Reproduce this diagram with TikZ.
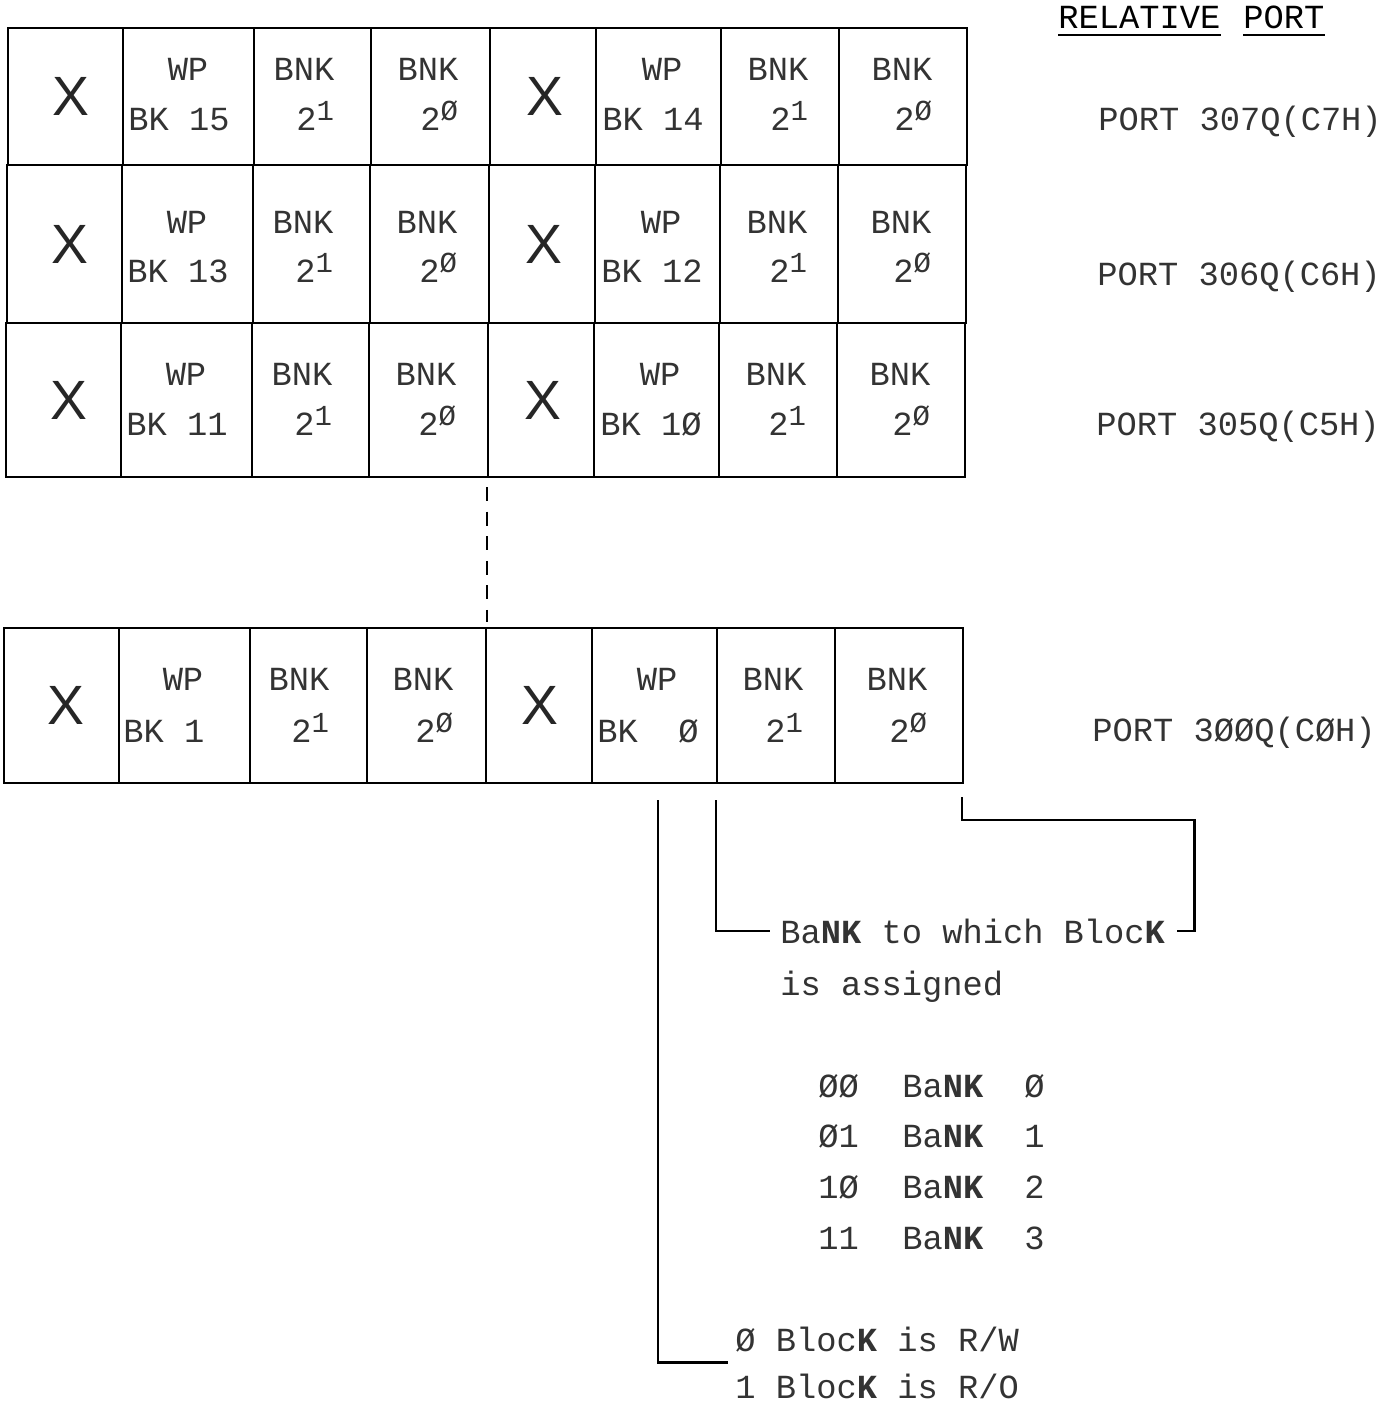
\documentclass[tikz,border=0pt]{standalone}
\usepackage{fontspec}
\setmonofont{Liberation Mono}
\newfontfamily\xfont{Liberation Sans}
\usetikzlibrary{calc}

\tikzset{
  mono/.style={inner sep=0pt, text=black!80, font=\ttfamily\fontsize{19.2}{23}\selectfont},
  lbl/.style={mono, anchor=base west},
  mid/.style={mono, anchor=base},
  bigx/.style={inner sep=0pt, text=black!85, font=\xfont\fontsize{31.5}{34}\selectfont},
  cellline/.style={line width=1.6pt},
  bracket/.style={line width=1.5pt}
}

\newcommand{\bnk}{Ba\textbf{NK}}
\newcommand{\blk}{Bloc\textbf{K}}
\newcommand{\pwr}[1]{2\raisebox{5.5pt}{\fontsize{16.5}{18}\selectfont #1}}

\begin{document}
\begin{tikzpicture}[x=0.02cm, y=-0.02cm]
    \useasboundingbox (0,0) rectangle (1395,1403);

    % register cells
    \foreach \yt/\yb/\dx in {28/165/0, 165/323/-1, 323/477/-2, 628/783/-4}
        \foreach \xl/\xr in {8/123, 123/254, 254/371, 371/490, 490/596, 596/721, 721/839, 839/967}
            \draw[cellline] (\xl+\dx,\yt) rectangle (\xr+\dx,\yb);

    % cell texts
    \foreach \yt/\yb/\yw/\yk/\dx/\bl/\br [count=\r] in
        {28/165/80/130/0/15/14, 165/323/233/282/-1/13/12,
         323/477/385/435/-2/11/1Ø, 628/783/690/742/-5/1/{~Ø}}
        \foreach \h/\bk [count=\s] in {0/\bl, 474/\br} {
            \node[bigx] (x-\r-\s) at (71+\h+\dx, {(\yt+\yb)/2}) {X};
            \node[mid] (wp-\r-\s) at (188+\h+\dx, \yw) {WP};
            \node[lbl] (bk-\r-\s) at (128+\h+\dx, \yk) {BK \bk};
            \node[mid] (hi-\r-\s) at (304+\h+\dx, \yw) {BNK};
            \node[lbl] (hp-\r-\s) at (296+\h+\dx, \yk) {\pwr{1}};
            \node[mid] (lo-\r-\s) at (428+\h+\dx, \yw) {BNK};
            \node[lbl] (lp-\r-\s) at (420+\h+\dx, \yk) {\pwr{Ø}};
        }

    \draw[line width=1.5pt, dash pattern=on 8pt off 6pt] (487,487) -- (487,622);

    % port column
    \node[lbl, text=black] (rel) at (1058,28) {RELATIVE};
    \node[lbl, text=black] (port) at (1243,28) {PORT};
    \draw[line width=1.1pt] ($(rel.base west)+(0,7)$) -- ($(rel.base east)+(0,7)$);
    \draw[line width=1.1pt] ($(port.base west)+(0,7)$) -- ($(port.base east)+(0,7)$);
    \node[lbl] (p307) at (1098,130) {PORT 307Q(C7H)};
    \node[lbl] (p306) at (1097,285) {PORT 306Q(C6H)};
    \node[lbl] (p305) at (1096,435) {PORT 305Q(C5H)};
    \node[lbl] (p300) at (1092,741) {PORT 3ØØQ(CØH)};

    % legend
    \node[lbl] (assign) at (780,943) {\bnk{} to which \blk};
    \node[lbl] (assign2) at (780,995) {is assigned};
    \foreach \code/\num/\yy [count=\i] in {ØØ/Ø/1097, Ø1/1/1147, 1Ø/2/1198, 11/3/1249} {
        \node[lbl] (code-\i) at (818,\yy) {\code};
        \node[lbl] (bank-\i) at (902,\yy) {\bnk};
        \node[lbl] (num-\i) at (1024,\yy) {\num};
    }
    \node[lbl] (rw) at (735,1351) {Ø \blk{} is R/W};
    \node[lbl] (ro) at (735,1398) {1 \blk{} is R/O};

    \coordinate (wpbit) at (658,800);
    \coordinate (bnkbit) at (716,800);
    \coordinate (endbit) at (962,797);

    \draw[bracket] (wpbit) |- ($(rw.west)!.5!(ro.west)+(-7,0)$);
    \draw[bracket] (bnkbit) |- ($(assign.west)+(-10,0)$);
    \draw[bracket] (endbit) -- (962,820) -| ($(assign.east)+(29,0)$) -- ($(assign.east)+(12,0)$);
\end{tikzpicture}
\end{document}
